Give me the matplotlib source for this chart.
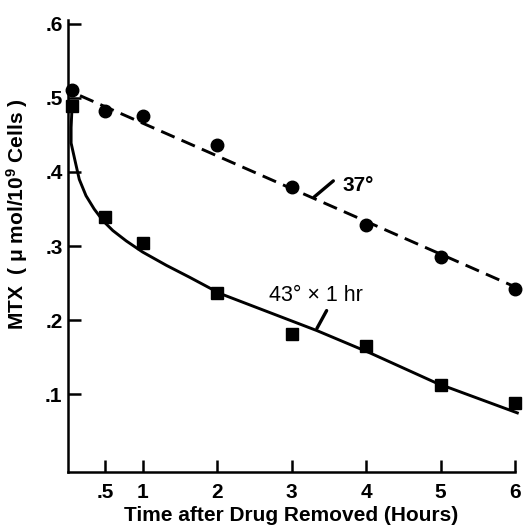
import matplotlib
matplotlib.use("Agg")
import matplotlib.pyplot as plt

plt.rcParams["font.family"] = ["Liberation Sans", "DejaVu Sans"]
plt.rcParams["mathtext.fontset"] = "custom"
plt.rcParams["mathtext.rm"] = "Liberation Sans:bold"
plt.rcParams["mathtext.it"] = "Liberation Sans:bold"

# 37 C (circles, dashed fit)
t_37 = [0.05, 0.5, 1, 2, 3, 4, 5, 6]
mtx_37 = [0.510, 0.482, 0.476, 0.436, 0.380, 0.328, 0.285, 0.242]
fit_37_t = [0.16, 6.0]
fit_37_v = [0.503, 0.245]

# 43 C x 1 hr (squares, solid curve)
t_43 = [0.05, 0.5, 1, 2, 3, 4, 5, 6]
mtx_43 = [0.489, 0.339, 0.304, 0.237, 0.181, 0.165, 0.112, 0.089]
curve_43_t = [0.05, 0.04, 0.04, 0.10, 0.15, 0.24, 0.35, 0.47, 0.60, 0.78,
              1.00, 1.32, 1.63, 2.04, 3.34, 4.05, 4.95, 6.03]
curve_43_v = [0.482, 0.460, 0.439, 0.412, 0.390, 0.368, 0.350, 0.334, 0.321,
              0.307, 0.292, 0.274, 0.258, 0.236, 0.186, 0.156, 0.115, 0.075]

xticks = [0.5, 1, 2, 3, 4, 5, 6]
xtick_labels = [".5", "1", "2", "3", "4", "5", "6"]
yticks = [0.1, 0.2, 0.3, 0.4, 0.5, 0.6]
ytick_labels = [".1", ".2", ".3", ".4", ".5", ".6"]

fig = plt.figure(figsize=(5.24, 5.27), dpi=100)
ax = fig.add_axes([0.130, 0.104, 0.853, 0.858])

ax.plot(fit_37_t, fit_37_v, color="black", lw=2.1, ls=(0, (5, 2.6)))
ax.plot(t_37, mtx_37, "o", color="black", ms=9, clip_on=False)
ax.plot(curve_43_t, curve_43_v, color="black", lw=2.1, clip_on=False,
        solid_joinstyle="round")
ax.plot(t_43, mtx_43, "s", color="black", ms=8, clip_on=False)

# labels with pointer strokes
ax.plot([3.30, 3.56], [0.366, 0.388], color="black", lw=2.4,
        solid_capstyle="round")
ax.text(3.68, 0.382, "37°", fontsize=15, fontweight="bold",
        va="center", ha="left")
ax.plot([3.34, 3.47], [0.189, 0.213], color="black", lw=2.4,
        solid_capstyle="round")
ax.text(2.70, 0.233, "43° × 1 hr", fontsize=15.5, va="center", ha="left")

ax.set_xlim(0, 6.0)
ax.set_ylim(-0.005, 0.605)
ax.set_xticks(xticks)
ax.set_xticklabels(xtick_labels)
ax.set_yticks(yticks)
ax.set_yticklabels(ytick_labels)
for s in ["top", "right"]:
    ax.spines[s].set_visible(False)
for s in ["left", "bottom"]:
    ax.spines[s].set_linewidth(1.8)
ax.tick_params(direction="in", length=9, width=1.8, labelsize=15)
ax.tick_params(axis="x", pad=8)
ax.tick_params(axis="y", pad=4)
for lab in ax.get_xticklabels() + ax.get_yticklabels():
    lab.set_fontweight("bold")

ax.set_xlabel("Time after Drug Removed (Hours)", fontsize=15,
              fontweight="bold", labelpad=3)
ax.set_ylabel("MTX  ( μ mol/10$^9$ Cells )", fontsize=15, fontweight="bold")
ax.yaxis.set_label_coords(-0.085, 0.57)

fig.savefig("out.png", dpi=100)
